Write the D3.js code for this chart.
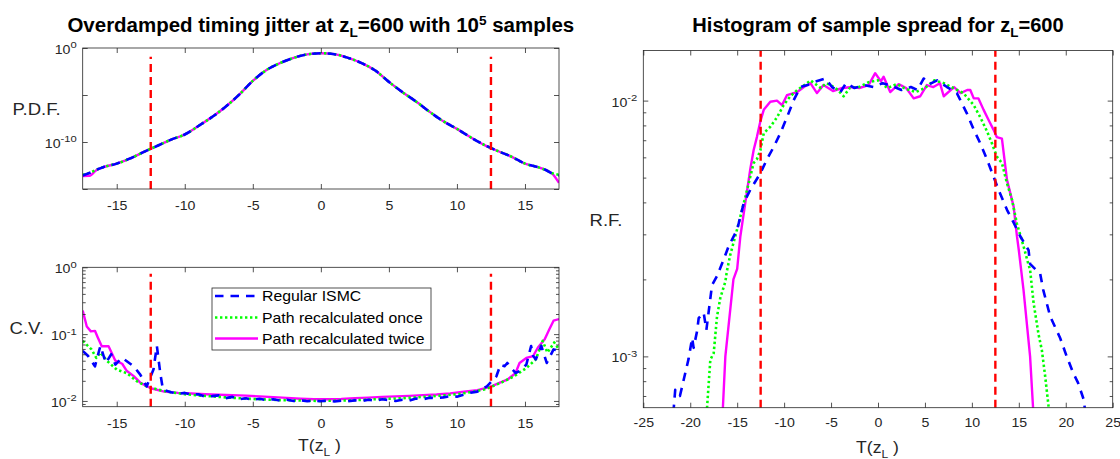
<!DOCTYPE html>
<html><head><meta charset="utf-8">
<script src="https://cdn.jsdelivr.net/npm/d3@7"></script>
<style>body{margin:0;background:#fff}svg{display:block;background:#fff}</style>
</head><body>
<svg id="chart" width="1120" height="459"></svg>
<script>
// ---------------- DATA ----------------
const seriesNames = ["Regular ISMC", "Path recalculated once", "Path recalculated twice"];
const jitterBounds = [-12.5, 12.5];

// P.D.F. panel
const pdfT = [-17.5,-17,-16.5,-16,-15,-14,-13,-12,-11,-10,-9,-8,-7,-6,-5,-4,-3,-2,-1,0,1,2,3,4,5,6,7,8,9,10,11,12,13,14,15,16,16.5,17,17.5];
const pdfBlue = [2.7e-14,5.0e-14,1.1e-13,2.1e-13,5.0e-13,1.8e-12,8.9e-12,4.0e-11,1.8e-10,6.3e-10,5.0e-9,4.5e-8,5.6e-7,1.1e-5,3.2e-4,4.5e-3,2.5e-2,8.9e-2,2.1e-1,2.75e-1,2.2e-1,8.9e-2,2.5e-2,4.0e-3,2.5e-4,2.0e-5,2.0e-6,1.6e-7,1.6e-8,2.5e-9,3.2e-10,5.0e-11,1.1e-11,2.8e-12,5.0e-13,2.0e-13,1.1e-13,4.5e-14,2.8e-14];
const pdfGreen = [3.3e-14,5.2e-14,1.1e-13,2.1e-13,5.0e-13,1.8e-12,8.9e-12,4.0e-11,1.8e-10,6.3e-10,5.0e-9,4.5e-8,5.6e-7,1.1e-5,3.2e-4,4.5e-3,2.5e-2,8.9e-2,2.1e-1,2.75e-1,2.2e-1,8.9e-2,2.5e-2,4.0e-3,2.5e-4,2.0e-5,2.0e-6,1.6e-7,1.6e-8,2.5e-9,3.2e-10,5.0e-11,1.1e-11,2.8e-12,5.0e-13,2.0e-13,1.1e-13,4.8e-14,3.2e-14];
const pdfMagenta = [2.4e-14,2.5e-14,1.0e-13,2.0e-13,5.0e-13,1.8e-12,8.9e-12,4.0e-11,1.8e-10,6.3e-10,5.0e-9,4.5e-8,5.6e-7,1.1e-5,3.2e-4,4.5e-3,2.5e-2,8.9e-2,2.1e-1,2.75e-1,2.2e-1,8.9e-2,2.5e-2,4.0e-3,2.5e-4,2.0e-5,2.0e-6,1.6e-7,1.6e-8,2.5e-9,3.2e-10,5.0e-11,1.1e-11,2.8e-12,5.0e-13,2.0e-13,1.1e-13,4.3e-14,4.5e-15];

// C.V. panel
const cvBlueT = [-17.5,-17.1,-16.6,-16.2,-15.8,-15.4,-15.1,-14.6,-13.76,-13.27,-12.8,-12.3,-12.05,-11.8,-11.6,-11,-10.5,-10,-9.5,-9,-8.5,-8,-7.5,-7,-6.5,-6,-5.5,-5,-4.5,-4,-3.5,-3,-2.5,-2,-1.5,-1,-0.5,0,0.5,1,1.5,2,2.5,3,3.5,4,4.5,5,5.5,6,6.5,7,7.5,8,8.5,9,9.5,10,10.5,11,11.5,12.2,12.9,13.2,13.5,13.7,14.3,14.6,15.1,15.45,15.6,15.8,16.2,16.6,17.1,17.5];
const cvBlue = [0.056,0.047,0.033,0.0665,0.037,0.050,0.035,0.0443,0.033,0.0248,0.0165,0.0295,0.0665,0.026,0.0147,0.0135,0.0128,0.0132,0.0124,0.0126,0.0116,0.0118,0.0121,0.0110,0.0115,0.0106,0.0110,0.0104,0.0108,0.0103,0.0106,0.0101,0.0104,0.0100,0.0102,0.0099,0.0101,0.0099,0.0101,0.0098,0.0101,0.0099,0.0102,0.0100,0.0104,0.0101,0.0106,0.0103,0.0100,0.0104,0.0101,0.0109,0.0106,0.0112,0.0110,0.0113,0.0118,0.0116,0.0124,0.0133,0.0138,0.0165,0.0234,0.035,0.033,0.037,0.0262,0.028,0.035,0.0665,0.047,0.042,0.0665,0.037,0.059,0.056];
const cvGreenT = [-17.5,-16.85,-16.5,-16.2,-15.7,-15,-14.25,-13.5,-12.8,-12,-11.3,-10,-9,-8,-7,-6,-5,-4,-3,-2,-1,0,1,2,3,4,5,6,7,8,9,10,11,12,12.5,13.3,14.2,15.1,15.8,16.3,16.65,17.15,17.5];
const cvGreen = [0.079,0.059,0.044,0.053,0.0395,0.0295,0.026,0.0196,0.0165,0.0148,0.0138,0.0126,0.0121,0.0117,0.0113,0.0110,0.0107,0.0105,0.0103,0.0102,0.0101,0.0100,0.0101,0.0102,0.0104,0.0106,0.0108,0.0110,0.0113,0.0117,0.0121,0.0126,0.0135,0.0148,0.0162,0.019,0.0234,0.031,0.042,0.079,0.053,0.075,0.059];
const cvMagentaT = [-17.5,-17.2,-16.9,-16.6,-16.4,-16.1,-15.6,-15.1,-14.6,-14.25,-13.75,-13.25,-12.5,-11.5,-10.5,-9.5,-8.5,-7.5,-6.5,-5.5,-4.5,-3.5,-2.5,-1.5,-0.5,0.5,1.5,2.5,3.5,4.5,5.5,6.5,7.5,8.5,9.5,10.5,11.5,12.45,13.2,13.7,14.3,14.6,15.1,15.6,15.95,16.45,16.8,17.1,17.5];
const cvMagenta = [0.225,0.13,0.11,0.112,0.09,0.066,0.066,0.040,0.036,0.028,0.0235,0.0186,0.0155,0.0138,0.0132,0.0129,0.0126,0.0124,0.0122,0.0120,0.0117,0.0114,0.0111,0.0108,0.0106,0.0106,0.0107,0.0110,0.0112,0.0115,0.0117,0.0119,0.0122,0.0125,0.0130,0.0137,0.0145,0.0162,0.019,0.0208,0.026,0.037,0.044,0.047,0.063,0.084,0.119,0.159,0.168];

// R.F. (histogram) panel
const histBlueT = [-21.8,-21.6,-21.1,-20.5,-20.17,-19.8,-19.64,-19.28,-19.1,-18.57,-18.28,-17.68,-17.15,-16.44,-15.9,-15,-14.3,-13.6,-12.53,-11.82,-11.1,-10.4,-9.7,-9,-8.27,-7.5,-6.86,-5.6,-4.9,-4,-3.4,-2.5,-1.5,-0.5,0.5,1.5,2.5,3.5,4.2,4.86,5.5,6.3,7.35,8.4,9.48,10.2,10.9,11.6,12.3,12.84,13.74,14.45,15.15,16.04,16.2,17.28,17.6,18.35,19.4,20.1,20.8,21.3,21.9,22.1];
const histBlue = [6.0e-4,7.4e-4,7.0e-4,8.7e-4,9.8e-4,1.18e-3,1.08e-3,1.25e-3,1.41e-3,1.48e-3,1.27e-3,1.9e-3,2.06e-3,2.39e-3,2.7e-3,3.13e-3,3.98e-3,4.48e-3,5.2e-3,5.9e-3,6.6e-3,7.46e-3,8.6e-3,1.0e-2,1.13e-2,1.15e-2,1.18e-2,1.22e-2,1.13e-2,1.08e-2,1.17e-2,1.12e-2,1.15e-2,1.13e-2,1.17e-2,1.14e-2,1.1e-2,1.13e-2,1.1e-2,1.22e-2,1.16e-2,1.2e-2,1.13e-2,1.07e-2,8.9e-3,7.7e-3,6.8e-3,5.9e-3,5.05e-3,4.48e-3,3.74e-3,3.33e-3,2.95e-3,2.6e-3,2.3e-3,2.1e-3,1.82e-3,1.43e-3,1.18e-3,1.0e-3,8.6e-4,7.9e-4,6.8e-4,6.0e-4];
const histGreenT = [-18.25,-17.86,-17.5,-17.15,-16.8,-16.26,-16.1,-15.73,-15.2,-14.66,-14.13,-13.25,-12.9,-12.53,-12.17,-11.47,-10.76,-10.05,-9.34,-8.6,-7.56,-7.2,-6.1,-5.5,-4.5,-3.66,-3,-2,-1,0,1,2,3,4,5,6,7,8,9.1,10.2,10.9,11.6,12.14,12.65,13.2,13.74,14.27,14.8,15.5,15.87,16.2,16.57,17.1,17.45,17.8,18.25];
const histGreen = [6.0e-4,9.7e-4,1.03e-3,1.43e-3,1.69e-3,1.96e-3,2.15e-3,2.5e-3,2.95e-3,3.52e-3,4.2e-3,5.7e-3,5.9e-3,6.4e-3,7.46e-3,7.9e-3,8.6e-3,9.6e-3,1.04e-2,1.1e-2,1.17e-2,1.2e-2,1.12e-2,1.17e-2,1.12e-2,1.04e-2,1.12e-2,1.13e-2,1.18e-2,1.2e-2,1.12e-2,1.16e-2,1.11e-2,1.08e-2,1.12e-2,1.2e-2,1.17e-2,1.12e-2,1.07e-2,9.6e-3,8.6e-3,7.6e-3,6.8e-3,6.05e-3,5.7e-3,4.75e-3,4.1e-3,3.3e-3,2.7e-3,2.4e-3,2.18e-3,1.62e-3,1.22e-3,1.06e-3,8.4e-4,6.0e-4];
const histMagentaT = [-16.55,-16.26,-15.4,-15,-14.66,-14.13,-13.6,-13.25,-12.9,-12.53,-12.17,-11.47,-10.76,-10.22,-9.7,-8.6,-7.9,-7.2,-6.5,-5.8,-4.8,-3.8,-2.7,-2,-1,-0.3,0.3,0.6,1.3,2.2,3,3.8,4.5,5.2,5.9,6.6,7,8.1,8.8,9.5,9.83,10.2,10.7,11.25,11.78,12.3,12.65,13.2,13.74,14.45,14.8,15,15.5,16.2,16.55];
const histMagenta = [6.0e-4,1.0e-3,2.0e-3,2.2e-3,2.95e-3,4.0e-3,5.4e-3,6.4e-3,7.2e-3,8.3e-3,9.2e-3,9.9e-3,1.0e-2,9.6e-3,1.05e-2,1.08e-2,1.13e-2,1.17e-2,1.07e-2,1.15e-2,1.09e-2,1.12e-2,1.13e-2,1.12e-2,1.15e-2,1.28e-2,1.19e-2,1.24e-2,1.08e-2,1.16e-2,1.12e-2,1.02e-2,1.04e-2,1.15e-2,1.13e-2,1.17e-2,1.04e-2,1.13e-2,1.07e-2,1.1e-2,1.1e-2,1.02e-2,1.02e-2,9.2e-3,8.4e-3,7.7e-3,7.2e-3,7.1e-3,4.9e-3,3.85e-3,2.95e-3,2.6e-3,1.82e-3,1.0e-3,6.0e-4];

// axis limits and ticks
const xLimLeft = [-17.5, 17.5];
const xLimRight = [-25, 25];
const pdfYLim = [1e-15, 1];
const cvYLim = [0.0082, 1];
const rfYLim = [6.3e-4, 1.57e-2];
const xTicksLeft = [-15,-10,-5,0,5,10,15];
const xTicksRight = [-25,-20,-15,-10,-5,0,5,10,15,20,25];
const pdfYTicks = [1e-15,1e-10,1e-5,1];
const pdfYTickLabels = [1e-10,1];
const cvYTicks = [1e-2,1e-1,1];
const cvYMinor = [9e-3,2e-2,3e-2,4e-2,5e-2,6e-2,7e-2,8e-2,9e-2,2e-1,3e-1,4e-1,5e-1,6e-1,7e-1,8e-1,9e-1];
const rfYTicks = [1e-3,1e-2];
const rfYMinor = [7e-4,8e-4,9e-4,2e-3,3e-3,4e-3,5e-3,6e-3,7e-3,8e-3,9e-3];
const redLinePdf = [1e-15, 0.12];
const redLineCv = [0.0082, 0.8];
const redLineRf = [6.3e-4, 1.57e-2];

// ---------------- STYLE ----------------
const FONT = "'Liberation Sans', Arial, Helvetica, sans-serif";
const AX = "#262626";
const COL = {blue:"#0000ff", green:"#00ff00", magenta:"#ff00ff", red:"#ff0000"};
const TICK_SX = 1.18, TICK_FS = 12;

const svg = d3.select("#chart").attr("font-family", FONT);
svg.append("rect").attr("width",1120).attr("height",459).attr("fill","#fff");

function textParts(parent, x, y, parts, o) {
  const t = parent.append("g").attr("transform",`translate(${x},${y})`).append("text")
    .attr("transform",`scale(${o.sx||1},1)`).attr("text-anchor",o.anchor||"start")
    .attr("font-size",o.size).attr("font-weight",o.weight||"normal").attr("fill",o.fill||AX);
  parts.forEach(p => {
    const ts = t.append("tspan").text(p.t);
    if (p.size) ts.attr("font-size", p.size);
    if (p.dy) ts.attr("dy", p.dy);
  });
  return t;
}

function styleAxis(g) {
  g.select(".domain").remove();
  g.selectAll(".tick line").attr("stroke", AX).attr("stroke-width", 0.8);
  g.selectAll("text").attr("fill", AX).attr("font-family", FONT).attr("font-size", TICK_FS);
}

function drawFrame(g, xs, ys, cfg) {
  const [x0,x1] = xs.range();
  const yb = ys.range()[0], yt = ys.range()[1];
  const b = g.append("g").attr("transform",`translate(0,${yb})`)
    .call(d3.axisBottom(xs).tickValues(cfg.xTicks).tickSize(-5).tickSizeOuter(0).tickPadding(cfg.xPad).tickFormat(d => String(d)));
  styleAxis(b);
  b.selectAll("text").attr("transform",`scale(${TICK_SX},1)`);
  const t = g.append("g").attr("transform",`translate(0,${yt})`)
    .call(d3.axisTop(xs).tickValues(cfg.xTicks).tickSize(-5).tickSizeOuter(0).tickFormat(""));
  styleAxis(t);
  const l = g.append("g").attr("transform",`translate(${x0},0)`)
    .call(d3.axisLeft(ys).tickValues(cfg.yTicks).tickSize(-5).tickSizeOuter(0).tickPadding(6).tickFormat(() => ""));
  styleAxis(l);
  l.selectAll(".tick text").each(function(d) {
    const el = d3.select(this);
    if (!cfg.yLabels.includes(d)) return;
    const e = Math.round(Math.log10(d));
    el.attr("transform",`scale(${TICK_SX},1)`).attr("x", -6/TICK_SX).attr("dy", "0.45em");
    el.append("tspan").text("10");
    el.append("tspan").attr("font-size", 9.5).attr("dy", -5.5).text(String(e));
  });
  const r = g.append("g").attr("transform",`translate(${x1},0)`)
    .call(d3.axisRight(ys).tickValues(cfg.yTicks).tickSize(-5).tickSizeOuter(0).tickFormat(""));
  styleAxis(r);
  if (cfg.yMinor) {
    const lm = g.append("g").attr("transform",`translate(${x0},0)`)
      .call(d3.axisLeft(ys).tickValues(cfg.yMinor).tickSize(-3).tickSizeOuter(0).tickFormat(""));
    styleAxis(lm);
    const rm = g.append("g").attr("transform",`translate(${x1},0)`)
      .call(d3.axisRight(ys).tickValues(cfg.yMinor).tickSize(-3).tickSizeOuter(0).tickFormat(""));
    styleAxis(rm);
  }
  g.append("rect").attr("x",x0).attr("y",yt).attr("width",x1-x0).attr("height",yb-yt)
    .attr("fill","none").attr("stroke",AX).attr("stroke-width",0.8);
}

let clipId = 0;
function plotArea(g, xs, ys) {
  const id = "clip" + (clipId++);
  const [x0,x1] = xs.range(); const yb = ys.range()[0], yt = ys.range()[1];
  g.append("clipPath").attr("id", id).append("rect").attr("x",x0).attr("y",yt).attr("width",x1-x0).attr("height",yb-yt);
  return g.append("g").attr("clip-path",`url(#${id})`);
}

const styles = {
  blue: {stroke: COL.blue, w: 2.6, dash: "8.5,7"},
  green: {stroke: COL.green, w: 2.6, dash: "2.4,2.6"},
  magenta: {stroke: COL.magenta, w: 2.4, dash: null}
};
function drawSeries(area, xs, ys, T, V, st, curve) {
  const line = d3.line().x(d => xs(d[0])).y(d => ys(d[1])).curve(curve || d3.curveLinear);
  area.append("path").datum(T.map((t,i) => [t, V[i]])).attr("d", line)
    .attr("fill","none").attr("stroke", st.stroke).attr("stroke-width", st.w)
    .attr("stroke-dasharray", st.dash).attr("stroke-linejoin","round");
}
function drawRed(area, xs, ys, yr) {
  jitterBounds.forEach(b => {
    area.append("line").attr("x1", xs(b)).attr("x2", xs(b)).attr("y1", ys(yr[0])).attr("y2", ys(yr[1]))
      .attr("stroke", COL.red).attr("stroke-width", 2.4).attr("stroke-dasharray","8,5");
  });
}

// ---------------- PANEL A: P.D.F. ----------------
const xA = d3.scaleLinear().domain(xLimLeft).range([82.7, 559]);
const yA = d3.scaleLog().domain(pdfYLim).range([189, 48]);
const gA = svg.append("g");
const aA = plotArea(gA, xA, yA);
drawSeries(aA, xA, yA, pdfT, pdfMagenta, styles.magenta, d3.curveMonotoneX);
drawSeries(aA, xA, yA, pdfT, pdfGreen, styles.green, d3.curveMonotoneX);
drawSeries(aA, xA, yA, pdfT, pdfBlue, styles.blue, d3.curveMonotoneX);
drawRed(aA, xA, yA, redLinePdf);
drawFrame(gA, xA, yA, {xTicks: xTicksLeft, xPad: 12.5, yTicks: pdfYTicks, yLabels: pdfYTickLabels});

// ---------------- PANEL B: C.V. ----------------
const xB = d3.scaleLinear().domain(xLimLeft).range([82.7, 559]);
const yB = d3.scaleLog().domain(cvYLim).range([406.7, 267.3]);
const gB = svg.append("g");
const aB = plotArea(gB, xB, yB);
drawSeries(aB, xB, yB, cvMagentaT, cvMagenta, styles.magenta);
drawSeries(aB, xB, yB, cvGreenT, cvGreen, styles.green);
drawSeries(aB, xB, yB, cvBlueT, cvBlue, styles.blue);
drawRed(aB, xB, yB, redLineCv);
drawFrame(gB, xB, yB, {xTicks: xTicksLeft, xPad: 13, yTicks: cvYTicks, yLabels: cvYTicks, yMinor: cvYMinor});

// legend
const lg = gB.append("g");
lg.append("rect").attr("x",212).attr("y",288).attr("width",219).attr("height",62)
  .attr("fill","#fff").attr("stroke",AX).attr("stroke-width",0.8);
[["blue",296],["green",317.5],["magenta",338.5]].forEach(([k,y],i) => {
  const st = styles[k];
  lg.append("line").attr("x1",215).attr("x2",258).attr("y1",y).attr("y2",y)
    .attr("stroke",st.stroke).attr("stroke-width",st.w).attr("stroke-dasharray",st.dash);
  textParts(lg, 262, y+5, [{t: seriesNames[i]}], {size: 14, sx: 1.13, fill: "#000"});
});

// ---------------- PANEL C: R.F. ----------------
const xC = d3.scaleLinear().domain(xLimRight).range([643.3, 1112.7]);
const yC = d3.scaleLog().domain(rfYLim).range([407.7, 50.5]);
const gC = svg.append("g");
const aC = plotArea(gC, xC, yC);
drawSeries(aC, xC, yC, histMagentaT, histMagenta, styles.magenta);
drawSeries(aC, xC, yC, histGreenT, histGreen, styles.green);
drawSeries(aC, xC, yC, histBlueT, histBlue, styles.blue);
drawRed(aC, xC, yC, redLineRf);
drawFrame(gC, xC, yC, {xTicks: xTicksRight, xPad: 11, yTicks: rfYTicks, yLabels: rfYTicks, yMinor: rfYMinor});

// ---------------- TEXT ----------------
textParts(svg, 320.8, 31.5, [{t:"Overdamped timing jitter at z"},{t:"L",size:13,dy:5},{t:"=600 with 10",dy:-5},{t:"5",size:13,dy:-7},{t:" samples",dy:7}],
  {size:19.5, weight:"bold", anchor:"middle", sx:1.05, fill:"#000"});
textParts(svg, 878, 31.5, [{t:"Histogram of sample spread for z"},{t:"L",size:13,dy:5},{t:"=600",dy:-5}],
  {size:19.5, weight:"bold", anchor:"middle", sx:1.03, fill:"#000"});
textParts(svg, 12.5, 114.5, [{t:"P.D.F."}], {size:16, sx:1.16});
textParts(svg, 9.5, 334, [{t:"C.V."}], {size:16, sx:1.16});
textParts(svg, 589.5, 225.5, [{t:"R.F."}], {size:16, sx:1.16});
textParts(svg, 319.5, 451, [{t:"T(z"},{t:"L",size:11,dy:4.5},{t:" )",dy:-4.5}], {size:16, anchor:"middle", sx:1.1});
textParts(svg, 877.5, 453, [{t:"T(z"},{t:"L",size:11,dy:4.5},{t:" )",dy:-4.5}], {size:16, anchor:"middle", sx:1.1});
</script>
</body></html>
